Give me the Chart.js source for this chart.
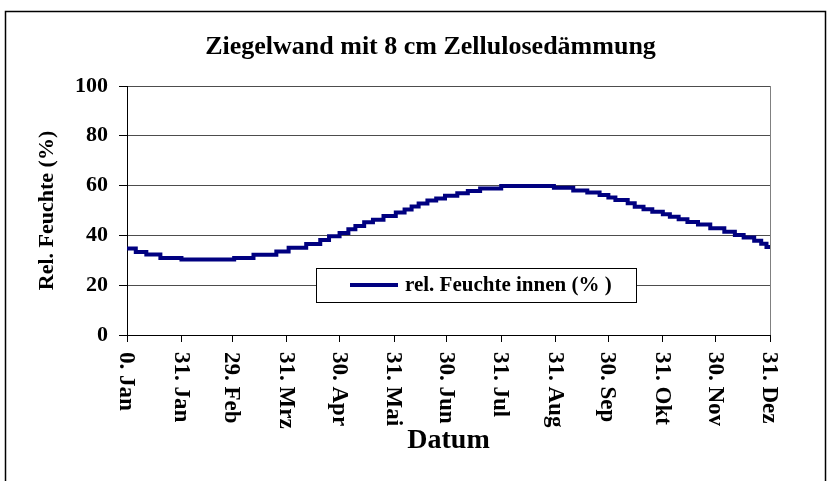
<!DOCTYPE html>
<html>
<head>
<meta charset="utf-8">
<script src="https://cdn.jsdelivr.net/npm/chart.js@4.4.1/dist/chart.umd.min.js"></script>
<style>
  html, body { margin: 0; padding: 0; background: #fff; }
  canvas { display: block; }
</style>
</head>
<body>
<canvas id="feuchteChart" width="831" height="481"></canvas>
<script>
const chartTitle = 'Ziegelwand mit 8 cm Zellulosedämmung';
const xTitle = 'Datum';
const yTitle = 'Rel. Feuchte (%)';
const seriesName = 'rel. Feuchte innen (% )';

// day of year for each date tick (leap year)
const tickDays = [0, 31, 60, 91, 121, 152, 182, 213, 244, 274, 305, 335, 366];
const tickLabels = ['0. Jan', '31. Jan', '29. Feb', '31. Mrz', '30. Apr', '31. Mai', '30. Jun',
                    '31. Jul', '31. Aug', '30. Sep', '31. Okt', '30. Nov', '31. Dez'];

// indoor humidity, held from each day until the next entry
const stepDays = [0, 5, 11, 19, 31, 61, 72, 85, 92, 102, 110, 115, 121, 126, 130, 135, 140, 146, 153, 158,
                  162, 166, 171, 176, 181, 188, 194, 201, 213, 243, 254, 262, 269, 274, 278, 285, 289, 294,
                  299, 305, 309, 314, 319, 325, 332, 340, 346, 351, 357, 361, 364, 366];
const rhInnen = [34.7, 33.3, 32.3, 30.9, 30.3, 30.9, 32.2, 33.5, 35.0, 36.5, 38.2, 39.7, 41.0, 42.5, 43.8, 45.3, 46.3, 47.8, 49.2, 50.4,
                 51.6, 52.8, 54.0, 54.8, 55.9, 56.9, 57.8, 58.8, 59.8, 59.1, 58.0, 57.2, 56.2, 55.2, 54.2, 52.9, 51.5, 50.5,
                 49.5, 48.5, 47.5, 46.5, 45.4, 44.4, 42.9, 41.5, 40.2, 39.2, 37.9, 36.6, 35.3, 34.6];

const serif = "'Liberation Serif', 'Times New Roman', serif";
const lineColor = '#000080';

const chartDecor = {
  id: 'chartDecor',
  afterDraw(chart) {
    const ctx = chart.ctx;
    const area = chart.chartArea;
    const xs = chart.scales.x;
    ctx.save();

    // grey right edge of plot area
    ctx.strokeStyle = '#808080';
    ctx.lineWidth = 1;
    ctx.beginPath();
    ctx.moveTo(Math.round(area.right) + 0.5, area.top);
    ctx.lineTo(Math.round(area.right) + 0.5, area.bottom);
    ctx.stroke();

    // outer frame
    ctx.strokeStyle = '#000';
    ctx.lineWidth = 1.5;
    ctx.strokeRect(5.5, 11.5, chart.width - 11, chart.height + 10);

    ctx.fillStyle = '#000';

    // title
    ctx.font = 'bold 26px ' + serif;
    ctx.textAlign = 'center';
    ctx.textBaseline = 'middle';
    ctx.fillText(chartTitle, chart.width / 2 + 15, 47);

    // date labels, turned to read downwards
    ctx.font = 'bold 23px ' + serif;
    ctx.textAlign = 'left';
    tickDays.forEach(function (d, i) {
      ctx.save();
      ctx.translate(xs.getPixelForValue(d) - 1, area.bottom + 17);
      ctx.rotate(Math.PI / 2);
      ctx.fillText(tickLabels[i], 0, 0);
      ctx.restore();
    });

    // axis titles
    ctx.textAlign = 'center';
    ctx.font = 'bold 28px ' + serif;
    ctx.fillText(xTitle, (area.left + area.right) / 2, 441);

    ctx.save();
    ctx.font = 'bold 22px ' + serif;
    ctx.translate(47, (area.top + area.bottom) / 2);
    ctx.rotate(-Math.PI / 2);
    ctx.fillText(yTitle, 0, 0);
    ctx.restore();

    // legend box inside the plot
    const lx = area.left + 189, ly = area.top + 182, lw = 320, lh = 34;
    ctx.fillStyle = '#fff';
    ctx.fillRect(lx, ly, lw, lh);
    ctx.strokeStyle = '#000';
    ctx.lineWidth = 1;
    ctx.strokeRect(lx + 0.5, ly + 0.5, lw, lh);
    ctx.strokeStyle = lineColor;
    ctx.lineWidth = 4;
    ctx.beginPath();
    ctx.moveTo(lx + 34, ly + 17);
    ctx.lineTo(lx + 82, ly + 17);
    ctx.stroke();
    ctx.fillStyle = '#000';
    ctx.font = 'bold 21px ' + serif;
    ctx.textAlign = 'left';
    ctx.fillText(seriesName, lx + 89, ly + 18);

    ctx.restore();
  }
};

let ctxFeuchte = document.getElementById('feuchteChart').getContext('2d');
let feuchteChart = new Chart(ctxFeuchte, {
  type: 'line',
  data: {
    datasets: [{
      label: seriesName,
      data: stepDays.map(function (d, i) { return { x: d, y: rhInnen[i] }; }),
      borderColor: lineColor,
      borderWidth: 4,
      stepped: 'before',
      pointRadius: 0,
      fill: false
    }]
  },
  options: {
    responsive: false,
    animation: false,
    devicePixelRatio: 1,
    layout: { padding: { left: 5, top: 86, right: 61, bottom: 0 } },
    plugins: {
      legend: { display: false },
      title: { display: false },
      tooltip: { enabled: false }
    },
    scales: {
      x: {
        type: 'linear',
        min: 0,
        max: 366,
        afterBuildTicks: function (scale) {
          scale.ticks = tickDays.map(function (d) { return { value: d }; });
        },
        afterFit: function (scale) { scale.height = 146; },
        ticks: { display: false },
        grid: { drawOnChartArea: false, drawTicks: true, tickLength: 7, tickColor: '#000' },
        border: { color: '#000', width: 1 }
      },
      y: {
        min: 0,
        max: 100,
        afterFit: function (scale) { scale.width = 122; },
        ticks: {
          stepSize: 20,
          padding: 11,
          color: '#000',
          font: { family: serif, size: 22, weight: 'bold' }
        },
        grid: { color: '#4d4d4d', lineWidth: 1, tickLength: 8, tickColor: '#000' },
        border: { color: '#000', width: 1 }
      }
    }
  },
  plugins: [chartDecor]
});
</script>
</body>
</html>
